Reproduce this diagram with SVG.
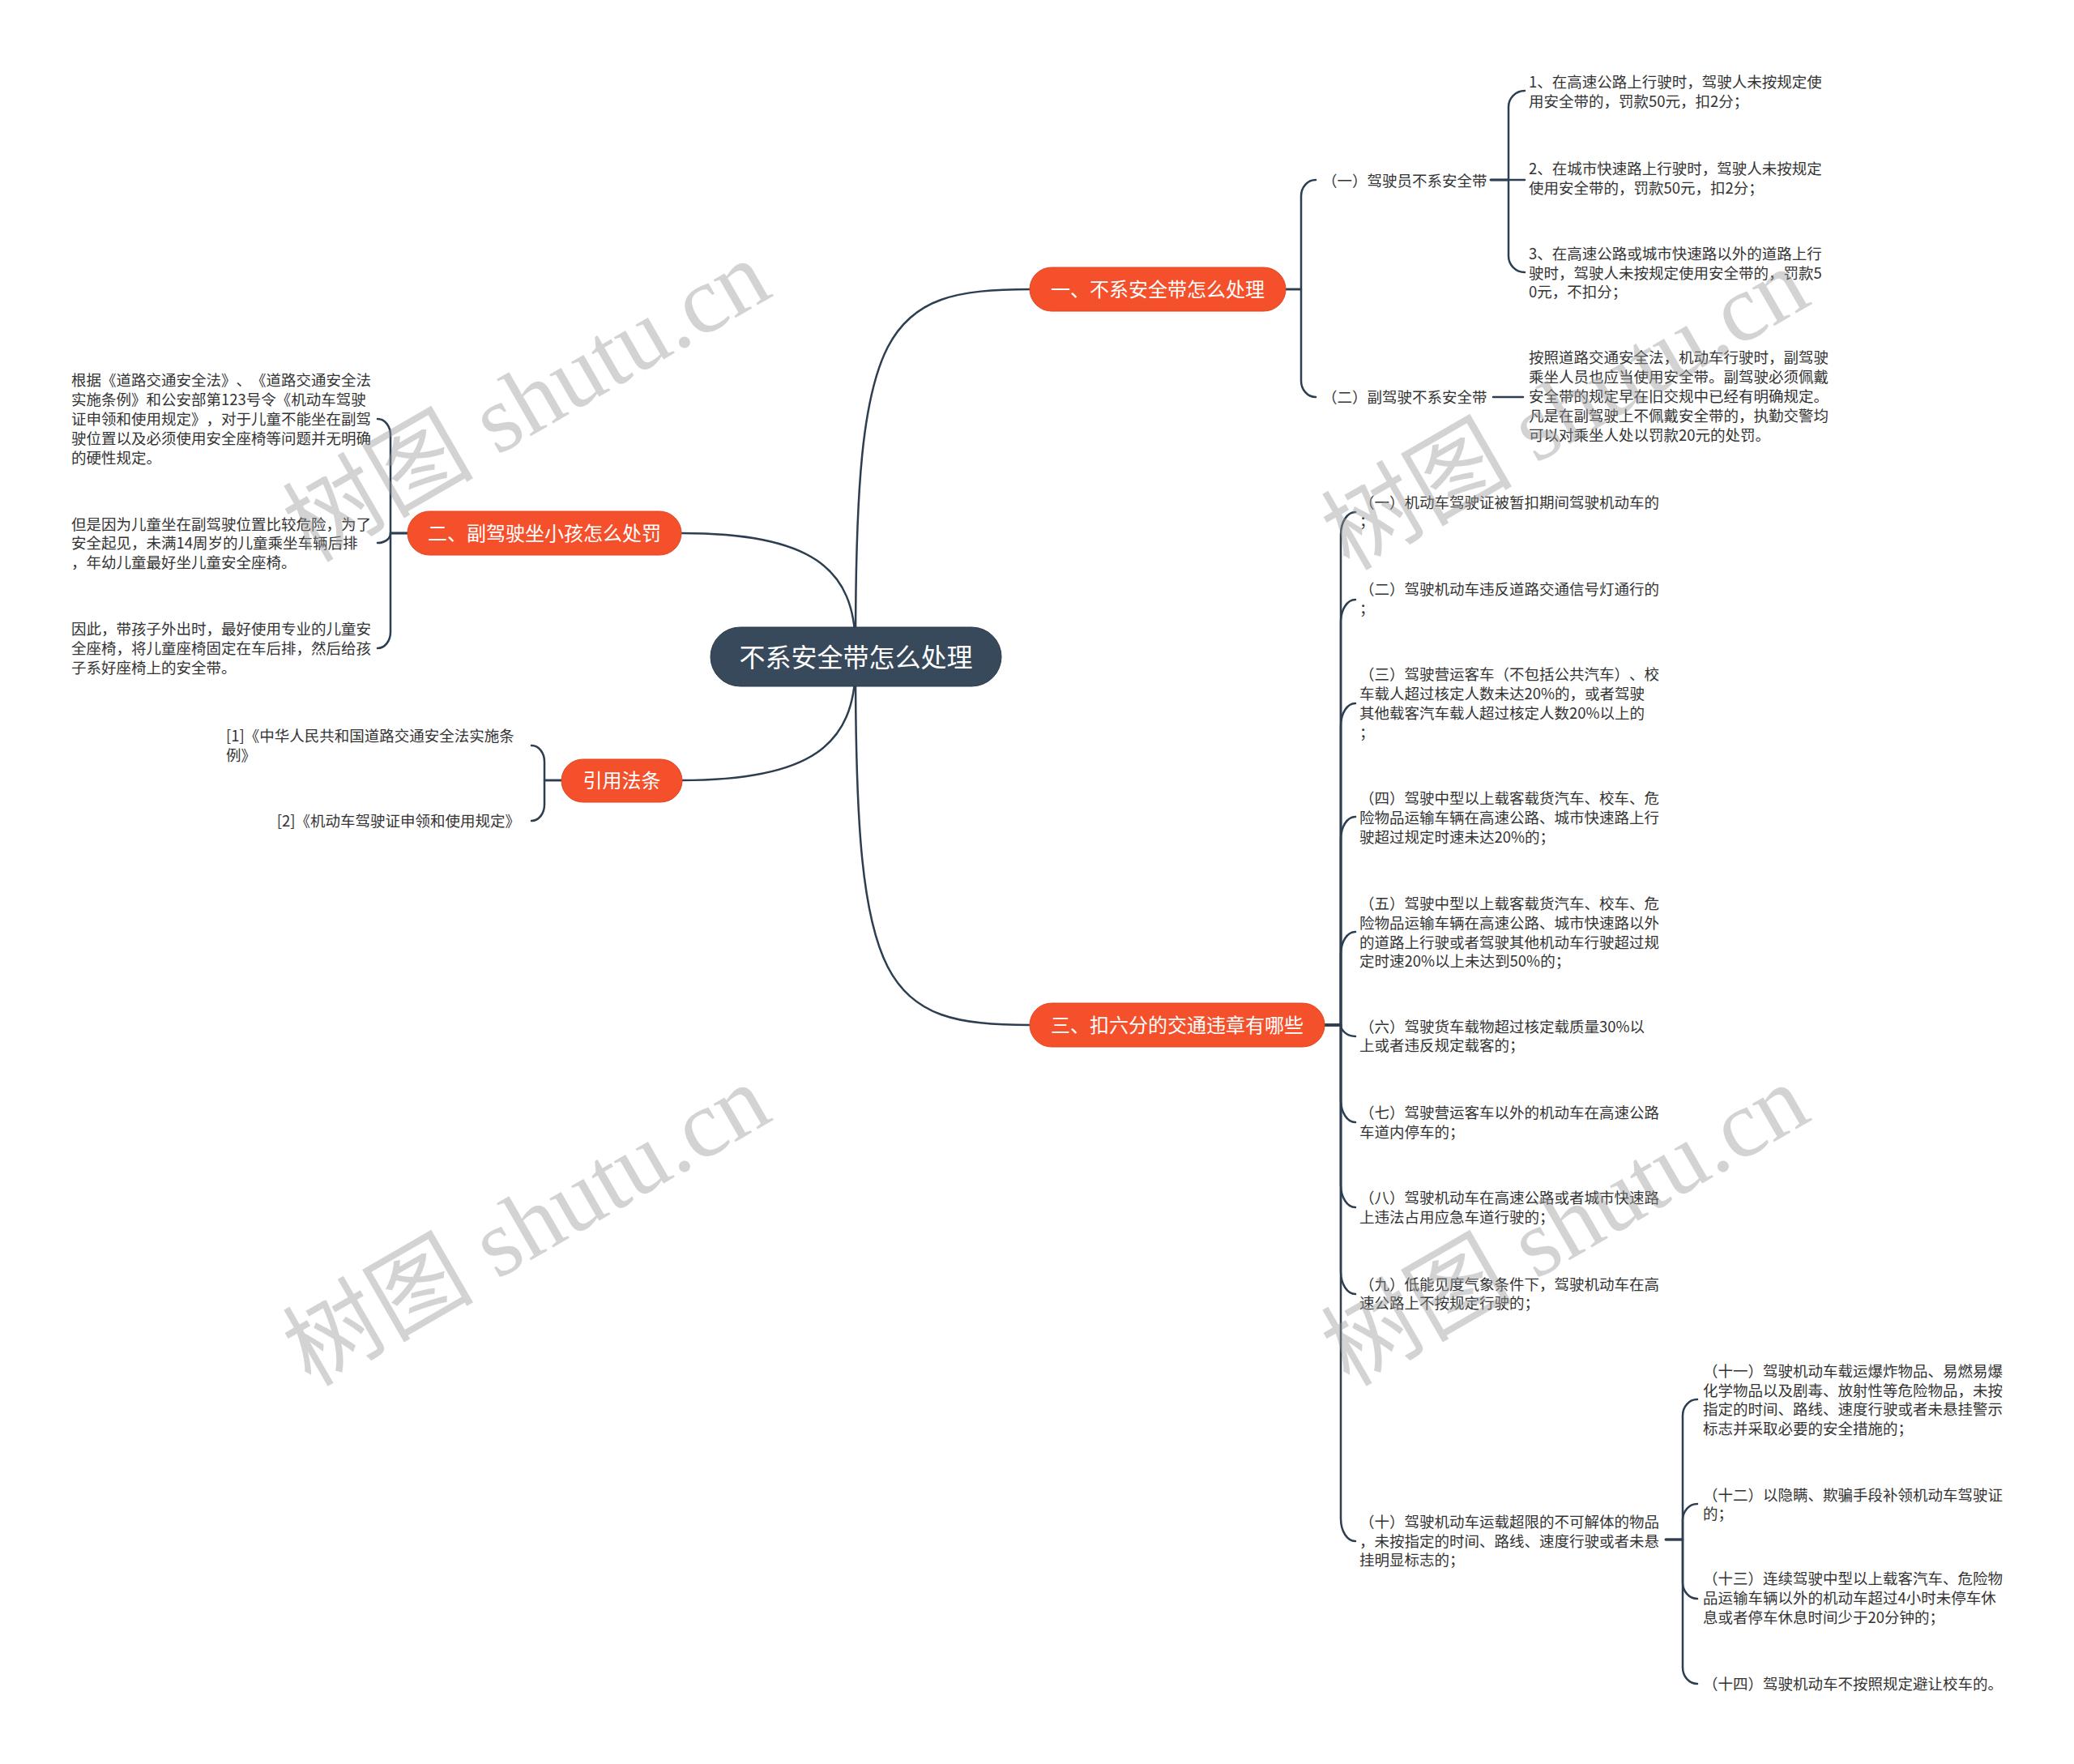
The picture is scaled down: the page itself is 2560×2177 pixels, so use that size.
<svg xmlns="http://www.w3.org/2000/svg" width="2560" height="2177" viewBox="0 0 2560 2177">
<style>
.t{font-family:"Noto Sans CJK SC","Liberation Sans",sans-serif;font-size:18.5px;fill:#333;text-spacing-trim:space-all}
.bt{font-family:"Noto Sans CJK SC","Liberation Sans",sans-serif;font-size:24px;fill:#fff;text-anchor:middle;text-spacing-trim:space-all}
.rt{font-family:"Noto Sans CJK SC","Liberation Sans",sans-serif;font-size:32px;fill:#fff;text-anchor:middle}
.box{fill:#f4502b;stroke:#e4431f;stroke-width:1}
.root{fill:#37495b;stroke:#2c3b49;stroke-width:1}
.c path{fill:none;stroke:#2c3e50;stroke-width:2.5;stroke-linecap:round;stroke-linejoin:round}
.wm{font-family:"Liberation Serif","Noto Sans CJK SC",serif;font-size:118px;fill:#999;opacity:0.42;text-anchor:middle}
</style>
<rect width="2560" height="2177" fill="#fff"/>
<g class="c" id="connectors">
<path d="M 1056 800 C 1056 400, 1090 357, 1272 357"/>
<path d="M 1056 800 C 1056 700, 1000 658, 841 658"/>
<path d="M 1056 820 C 1056 920, 1000 963, 841 963"/>
<path d="M 1056 820 C 1056 1222, 1090 1265, 1272 1265"/>
<path d="M 1587 357 H 1606 V 242 C 1606 231, 1614 222, 1624 222"/>
<path d="M 1587 357 H 1606 V 470 C 1606 481, 1614 490, 1624 490"/>
<path d="M 1840 222 H 1862 V 132 C 1862 121, 1871 112, 1882 112"/>
<path d="M 1840 222 H 1882"/>
<path d="M 1840 222 H 1862 V 316 C 1862 327, 1871 336, 1882 336"/>
<path d="M 1843 490 H 1880"/>
<path d="M 503 658 H 482 V 537 C 482 526, 475 517, 466 517"/>
<path d="M 503 658 H 482 C 482 665, 475 670, 466 670"/>
<path d="M 503 658 H 482 V 780 C 482 791, 475 800, 466 800"/>
<path d="M 693 963 H 672 V 940 C 672 929, 665 920, 656 920"/>
<path d="M 693 963 H 672 V 993 C 672 1004, 665 1013, 656 1013"/>
<path d="M 1635 1265 H 1655 V 660 C 1655 644, 1663 632, 1673 632"/>
<path d="M 1635 1265 H 1655 V 768 C 1655 752, 1663 740, 1673 740"/>
<path d="M 1635 1265 H 1655 V 896 C 1655 880, 1663 868, 1673 868"/>
<path d="M 1635 1265 H 1655 V 1036 C 1655 1020, 1663 1008, 1673 1008"/>
<path d="M 1635 1265 H 1655 V 1178 C 1655 1162, 1663 1150, 1673 1150"/>
<path d="M 1635 1265 H 1655 C 1655 1272, 1663 1279, 1673 1279"/>
<path d="M 1635 1265 H 1655 V 1357 C 1655 1373, 1663 1385, 1673 1385"/>
<path d="M 1635 1265 H 1655 V 1462 C 1655 1478, 1663 1490, 1673 1490"/>
<path d="M 1635 1265 H 1655 V 1569 C 1655 1585, 1663 1597, 1673 1597"/>
<path d="M 1635 1265 H 1655 V 1874 C 1655 1890, 1663 1902, 1673 1902"/>
<path d="M 2056 1900 H 2077 V 1747 C 2077 1736, 2085 1727, 2095 1727"/>
<path d="M 2056 1900 H 2077 V 1876 C 2077 1865, 2085 1856, 2095 1856"/>
<path d="M 2056 1900 H 2077 V 1953 C 2077 1964, 2085 1973, 2095 1973"/>
<path d="M 2056 1900 H 2077 V 2058 C 2077 2069, 2085 2078, 2095 2078"/>
</g>
<g id="root">
<rect class="root" x="877" y="774" width="359" height="73" rx="36.5"/>
<text class="rt" x="1056.5" y="823">不系安全带怎么处理</text>
</g>
<g id="b1">
<rect class="box" x="1271" y="330" width="316" height="54" rx="27"/>
<text class="bt" x="1429" y="366">一、不系安全带怎么处理</text>
</g>
<g id="b2">
<rect class="box" x="503" y="631" width="338" height="54" rx="27"/>
<text class="bt" x="672" y="667">二、副驾驶坐小孩怎么处罚</text>
</g>
<g id="b3">
<rect class="box" x="693" y="937" width="149" height="53" rx="26.5"/>
<text class="bt" x="767.5" y="972">引用法条</text>
</g>
<g id="b4">
<rect class="box" x="1271" y="1238" width="364" height="54" rx="27"/>
<text class="bt" x="1453" y="1274">三、扣六分的交通违章有哪些</text>
</g>
<g id="n1-1"><text class="t" x="1632" y="230">（一）驾驶员不系安全带</text></g>
<g id="n1-1-1"><text class="t"><tspan x="1887" y="108">1、在高速公路上行驶时，驾驶人未按规定使</tspan><tspan x="1887" y="132">用安全带的，罚款50元，扣2分；</tspan></text></g>
<g id="n1-1-2"><text class="t"><tspan x="1887" y="215">2、在城市快速路上行驶时，驾驶人未按规定</tspan><tspan x="1887" y="239">使用安全带的，罚款50元，扣2分；</tspan></text></g>
<g id="n1-1-3"><text class="t"><tspan x="1887" y="320">3、在高速公路或城市快速路以外的道路上行</tspan><tspan x="1887" y="344">驶时，驾驶人未按规定使用安全带的，罚款5</tspan><tspan x="1887" y="367">0元，不扣分；</tspan></text></g>
<g id="n1-2"><text class="t" x="1632" y="497">（二）副驾驶不系安全带</text></g>
<g id="n1-2-1"><text class="t"><tspan x="1887" y="448">按照道路交通安全法，机动车行驶时，副驾驶</tspan><tspan x="1887" y="472">乘坐人员也应当使用安全带。副驾驶必须佩戴</tspan><tspan x="1887" y="496">安全带的规定早在旧交规中已经有明确规定。</tspan><tspan x="1887" y="520">凡是在副驾驶上不佩戴安全带的，执勤交警均</tspan><tspan x="1887" y="544">可以对乘坐人处以罚款20元的处罚。</tspan></text></g>
<g id="n2-1"><text class="t"><tspan x="88" y="476">根据《道路交通安全法》、《道路交通安全法</tspan><tspan x="88" y="500">实施条例》和公安部第123号令《机动车驾驶</tspan><tspan x="88" y="524">证申领和使用规定》，对于儿童不能坐在副驾</tspan><tspan x="88" y="548">驶位置以及必须使用安全座椅等问题并无明确</tspan><tspan x="88" y="572">的硬性规定。</tspan></text></g>
<g id="n2-2"><text class="t"><tspan x="88" y="654">但是因为儿童坐在副驾驶位置比较危险，为了</tspan><tspan x="88" y="677">安全起见，未满14周岁的儿童乘坐车辆后排</tspan><tspan x="88" y="701">，年幼儿童最好坐儿童安全座椅。</tspan></text></g>
<g id="n2-3"><text class="t"><tspan x="88" y="783">因此，带孩子外出时，最好使用专业的儿童安</tspan><tspan x="88" y="807">全座椅，将儿童座椅固定在车后排，然后给孩</tspan><tspan x="88" y="831">子系好座椅上的安全带。</tspan></text></g>
<g id="n3-1"><text class="t"><tspan x="279" y="915">[1]《中华人民共和国道路交通安全法实施条</tspan><tspan x="279" y="939">例》</tspan></text></g>
<g id="n3-2"><text class="t" x="642" y="1020" text-anchor="end">[2]《机动车驾驶证申领和使用规定》</text></g>
<g id="n4-1"><text class="t"><tspan x="1678" y="627">（一）机动车驾驶证被暂扣期间驾驶机动车的</tspan><tspan x="1678" y="650">；</tspan></text></g>
<g id="n4-2"><text class="t"><tspan x="1678" y="734">（二）驾驶机动车违反道路交通信号灯通行的</tspan><tspan x="1678" y="758">；</tspan></text></g>
<g id="n4-3"><text class="t"><tspan x="1678" y="839">（三）驾驶营运客车（不包括公共汽车）、校</tspan><tspan x="1678" y="863">车载人超过核定人数未达20%的，或者驾驶</tspan><tspan x="1678" y="887">其他载客汽车载人超过核定人数20%以上的</tspan><tspan x="1678" y="911">；</tspan></text></g>
<g id="n4-4"><text class="t"><tspan x="1678" y="992">（四）驾驶中型以上载客载货汽车、校车、危</tspan><tspan x="1678" y="1016">险物品运输车辆在高速公路、城市快速路上行</tspan><tspan x="1678" y="1040">驶超过规定时速未达20%的；</tspan></text></g>
<g id="n4-5"><text class="t"><tspan x="1678" y="1122">（五）驾驶中型以上载客载货汽车、校车、危</tspan><tspan x="1678" y="1146">险物品运输车辆在高速公路、城市快速路以外</tspan><tspan x="1678" y="1170">的道路上行驶或者驾驶其他机动车行驶超过规</tspan><tspan x="1678" y="1193">定时速20%以上未达到50%的；</tspan></text></g>
<g id="n4-6"><text class="t"><tspan x="1678" y="1274">（六）驾驶货车载物超过核定载质量30%以</tspan><tspan x="1678" y="1297">上或者违反规定载客的；</tspan></text></g>
<g id="n4-7"><text class="t"><tspan x="1678" y="1380">（七）驾驶营运客车以外的机动车在高速公路</tspan><tspan x="1678" y="1404">车道内停车的；</tspan></text></g>
<g id="n4-8"><text class="t"><tspan x="1678" y="1485">（八）驾驶机动车在高速公路或者城市快速路</tspan><tspan x="1678" y="1509">上违法占用应急车道行驶的；</tspan></text></g>
<g id="n4-9"><text class="t"><tspan x="1678" y="1592">（九）低能见度气象条件下，驾驶机动车在高</tspan><tspan x="1678" y="1615">速公路上不按规定行驶的；</tspan></text></g>
<g id="n4-10"><text class="t"><tspan x="1678" y="1885">（十）驾驶机动车运载超限的不可解体的物品</tspan><tspan x="1678" y="1909">，未按指定的时间、路线、速度行驶或者未悬</tspan><tspan x="1678" y="1932">挂明显标志的；</tspan></text></g>
<g id="n4-11"><text class="t"><tspan x="2102" y="1699">（十一）驾驶机动车载运爆炸物品、易燃易爆</tspan><tspan x="2102" y="1723">化学物品以及剧毒、放射性等危险物品，未按</tspan><tspan x="2102" y="1746">指定的时间、路线、速度行驶或者未悬挂警示</tspan><tspan x="2102" y="1770">标志并采取必要的安全措施的；</tspan></text></g>
<g id="n4-12"><text class="t"><tspan x="2102" y="1852">（十二）以隐瞒、欺骗手段补领机动车驾驶证</tspan><tspan x="2102" y="1875">的；</tspan></text></g>
<g id="n4-13"><text class="t"><tspan x="2102" y="1955">（十三）连续驾驶中型以上载客汽车、危险物</tspan><tspan x="2102" y="1979">品运输车辆以外的机动车超过4小时未停车休</tspan><tspan x="2102" y="2003">息或者停车休息时间少于20分钟的；</tspan></text></g>
<g id="n4-14"><text class="t" x="2102" y="2085">（十四）驾驶机动车不按照规定避让校车的。</text></g>
<g id="watermarks">
<text class="wm" x="650" y="535" transform="rotate(-30 650 495)">树图 shutu.cn</text>
<text class="wm" x="1932" y="545" transform="rotate(-30 1932 505)">树图 shutu.cn</text>
<text class="wm" x="650" y="1552" transform="rotate(-30 650 1512)">树图 shutu.cn</text>
<text class="wm" x="1932" y="1552" transform="rotate(-30 1932 1512)">树图 shutu.cn</text>
</g>
</svg>
